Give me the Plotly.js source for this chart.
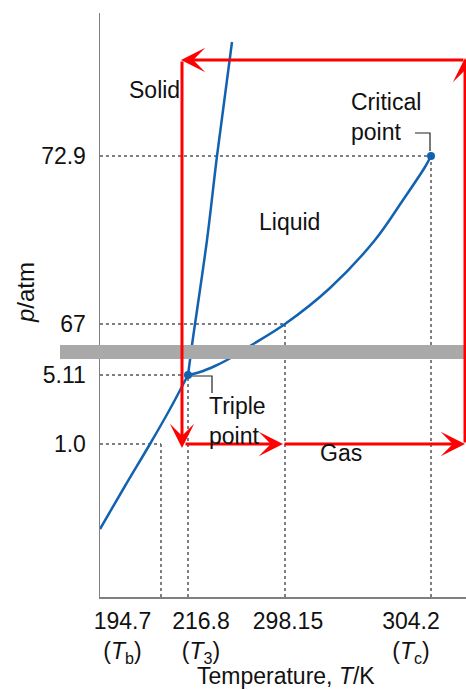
<!DOCTYPE html>
<html>
<head>
<meta charset="utf-8">
<script src="https://cdn.plot.ly/plotly-3.0.1.min.js"></script>
<style>html,body{margin:0;padding:0;background:#fff}#chart{width:466px;height:690px}</style>
</head>
<body>
<div id="chart"></div>
<script>
// Schematic (non-linear) phase diagram of CO2; positions are in schematic units.
const xRange = [0, 366];
const yRange = [0, 584];

// Temperature ticks (K) and their schematic positions
const tempLabels = ["194.7<br>(<i>T</i><sub>b</sub>)", "216.8<br>(<i>T</i><sub>3</sub>)", "298.15", "304.2<br>(<i>T</i><sub>c</sub>)"];
const tempLabelPos = [22.5, 101, 188, 311];
const tempPos = [61, 88, 185, 331];

// Pressure ticks (atm) and their schematic positions
const presLabels = ["1.0", "5.11", "67", "72.9"];
const presPos = [153, 222, 273, 441];

// Phase boundaries (schematic units)
const sublimX = [0, 25, 50, 70, 88];
const sublimY = [68, 111, 153, 188, 222];
const meltX = [88, 92, 107, 117, 132];
const meltY = [222, 252, 357, 441, 555];
const vapX = [88, 100, 115, 127, 150, 185, 230, 275, 303, 325, 331];
const vapY = [222, 225, 231, 237, 251, 273, 309, 357, 397, 430, 441];

// Special points
const tripleX = [88], tripleY = [222];
const criticalX = [331], criticalY = [441];

// Leader lines for point labels
const critLeadX = [315, 330, 330], critLeadY = [464, 464, 446];
const tripLeadX = [91, 112, 112], tripLeadY = [221, 221, 204];

// Red cycle arrows: [tailX, tailY, tipX, tipY]
const cycleTailX = [82, 84, 183, 365, 365];
const cycleTailY = [537, 153, 153, 153, 537];
const cycleTipX  = [82, 183, 365, 365, 81];
const cycleTipY  = [149, 153, 153, 539, 537];

// Axis-break band (schematic units)
const bandX = [-40, 366];
const bandY = [238, 252];

// Axis title positions (schematic units)
const xTitlePos = [186, -79];
const yTitlePos = [-75, 304];

// Dotted guide lines: tick index pairs (temperature index, pressure index)
const guideT = [0, 1, 2, 3];
const guideP = [0, 1, 2, 3];

const traces = [];
const dotLine = {color: '#555', width: 1.5, dash: 'dot'};
guideP.forEach((pi, k) => {
  const ti = guideT[k];
  traces.push({x: [xRange[0], tempPos[ti]], y: [presPos[pi], presPos[pi]], mode: 'lines', line: dotLine, hoverinfo: 'skip', showlegend: false});
  traces.push({x: [tempPos[ti], tempPos[ti]], y: [yRange[0], presPos[pi]], mode: 'lines', line: dotLine, hoverinfo: 'skip', showlegend: false});
});

const blue = '#1262b0';
traces.push({x: sublimX, y: sublimY, mode: 'lines', line: {color: blue, width: 2.5, shape: 'spline'}, showlegend: false, cliponaxis: false});
traces.push({x: meltX, y: meltY, mode: 'lines', line: {color: blue, width: 2.5, shape: 'spline'}, showlegend: false});
traces.push({x: vapX, y: vapY, mode: 'lines', line: {color: blue, width: 2.5, shape: 'spline'}, showlegend: false});
traces.push({x: critLeadX, y: critLeadY, mode: 'lines', line: {color: '#222', width: 1.2}, showlegend: false});
traces.push({x: tripLeadX, y: tripLeadY, mode: 'lines', line: {color: '#222', width: 1.2}, showlegend: false});
traces.push({x: tripleX.concat(criticalX), y: tripleY.concat(criticalY), mode: 'markers', marker: {color: blue, size: 8}, showlegend: false, cliponaxis: false});

const toPaperX = v => (v - xRange[0]) / (xRange[1] - xRange[0]);
const toPaperY = v => (v - yRange[0]) / (yRange[1] - yRange[0]);

const font = 'Liberation Sans, Arial, Helvetica, sans-serif';
const fs = 23;
const annotations = [];
cycleTipX.forEach((tx, i) => {
  annotations.push({
    x: tx, y: cycleTipY[i], ax: cycleTailX[i], ay: cycleTailY[i],
    xref: 'x', yref: 'y', axref: 'x', ayref: 'y',
    text: '', showarrow: true, arrowhead: 3, arrowsize: 1.35, arrowwidth: 3,
    arrowcolor: '#ff0000', standoff: 0
  });
});
const textAnn = (x, y, text, xanchor, align) => ({
  x: x, y: y, xref: 'x', yref: 'y', text: text, showarrow: false,
  xanchor: xanchor, yanchor: 'middle', align: align,
  font: {family: font, size: fs, color: '#111'}
});
annotations.push(textAnn(54, 507, 'Solid', 'center', 'center'));
annotations.push(textAnn(249, 480, 'Critical<br>point', 'left', 'left'));
annotations.push(textAnn(189, 375, 'Liquid', 'center', 'center'));
annotations.push(textAnn(107, 176, 'Triple<br>point', 'left', 'left'));
annotations.push(textAnn(241, 144, 'Gas', 'center', 'center'));
// axis titles (paper-referenced so they are never hidden outside the plot area)
annotations.push({
  x: toPaperX(xTitlePos[0]), y: toPaperY(xTitlePos[1]), xref: 'paper', yref: 'paper',
  text: 'Temperature, <i>T</i>/K', showarrow: false, xanchor: 'center', yanchor: 'middle',
  font: {family: font, size: fs, color: '#111'}
});
annotations.push({
  x: toPaperX(yTitlePos[0]), y: toPaperY(yTitlePos[1]), xref: 'paper', yref: 'paper',
  text: '<i>p</i>/atm', showarrow: false, textangle: -90, xanchor: 'center', yanchor: 'middle',
  font: {family: font, size: 24, color: '#111'}
});

const layout = {
  width: 466, height: 690,
  margin: {l: 100, r: 0, t: 13, b: 93},
  paper_bgcolor: '#fff', plot_bgcolor: '#fff',
  font: {family: font, size: fs, color: '#111'},
  showlegend: false,
  xaxis: {
    range: xRange, showgrid: false, zeroline: false,
    showline: true, linecolor: '#808080', linewidth: 1.5,
    tickvals: tempLabelPos, ticktext: tempLabels,
    ticks: '', ticklabelstandoff: 3,
    tickfont: {family: font, size: fs, color: '#111'}
  },
  yaxis: {
    range: yRange, showgrid: false, zeroline: false,
    showline: true, linecolor: '#808080', linewidth: 1.5,
    tickvals: presPos, ticktext: presLabels,
    ticks: 'outside', ticklen: 8, tickcolor: 'rgba(0,0,0,0)',
    tickfont: {family: font, size: fs, color: '#111'}
  },
  shapes: [{
    type: 'rect', xref: 'paper', yref: 'paper',
    x0: toPaperX(bandX[0]), x1: toPaperX(bandX[1]),
    y0: toPaperY(bandY[0]), y1: toPaperY(bandY[1]),
    fillcolor: '#a9a9a9', line: {width: 0}, layer: 'above'
  }],
  annotations: annotations
};

Plotly.newPlot('chart', traces, layout, {staticPlot: true, displayModeBar: false});
</script>
</body>
</html>
